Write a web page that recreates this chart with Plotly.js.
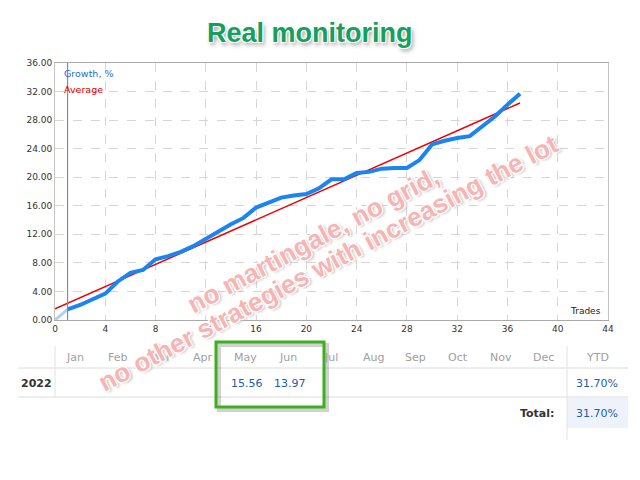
<!DOCTYPE html>
<html>
<head>
<meta charset="utf-8">
<script src="https://cdn.plot.ly/plotly-3.0.1.min.js"></script>
<style>
  html, body { margin: 0; padding: 0; background: #fff; }
  #chart { width: 640px; height: 480px; }
</style>
</head>
<body>
<div id="chart"></div>
<script>
// growth curve, % by trade number
var trades = [1, 2, 3, 4, 5, 6, 7, 8, 9, 10, 11, 12, 13, 14, 15, 16, 17, 18, 19,
  20, 21, 22, 23, 24, 25, 26, 27, 28, 29, 30, 31, 32, 33, 34, 35, 36, 37];
var growth = [1.5, 2.1, 2.9, 3.7, 5.4, 6.6, 7.0, 8.5, 8.95, 9.55, 10.35, 11.4, 12.4, 13.4, 14.3, 15.75, 16.45, 17.15, 17.45,
  17.65, 18.45, 19.7, 19.7, 20.6, 20.75, 21.2, 21.3, 21.3, 22.4, 24.6, 25.1, 25.5, 25.75, 27.1, 28.5, 30.15, 31.7];
var startX = [0, 1];
var startY = [0, 1.5];
var avgX = [0, 37];
var avgY = [1.55, 30.4];

// monthly table
var months = ['Jan', 'Feb', 'Mar', 'Apr', 'May', 'Jun', 'Jul', 'Aug', 'Sep', 'Oct', 'Nov', 'Dec'];
var year = '2022';
var monthVals = ['', '', '', '', '15.56', '13.97', '', '', '', '', '', ''];
var ytd = '31.70%';
var total = '31.70%';

// pixel -> paper helpers (plot area 55..608 x 63..320)
function px(x) { return (x - 55) / 553; }
function py(y) { return (320 - y) / 257; }

// text placed by pixel centre
function label(x, y, text, font, xanchor) {
  return { xref: 'paper', yref: 'paper', x: px(x), y: py(y), showarrow: false,
    xanchor: xanchor || 'center', yanchor: 'middle', text: text, font: font };
}

var tickFont = { family: 'DejaVu Sans', size: 9, color: '#333' };

var data = [
  { x: startX, y: startY, type: 'scatter', mode: 'lines',
    line: { color: '#b3cfec', width: 3 }, hoverinfo: 'skip' },
  { x: avgX, y: avgY, type: 'scatter', mode: 'lines',
    line: { color: '#ee0000', width: 1.5 } },
  { x: trades, y: growth, type: 'scatter', mode: 'lines',
    line: { color: '#1a85f0', width: 4 } }
];

var ann = [];
var shapes = [];

// title
ann.push(label(310, 33, '<b>Real monitoring</b>', { family: 'Liberation Sans', size: 27, color: '#15a060',
  shadow: '1px 1px 0 #fff, -1px -1px 0 #fff, 1px -1px 0 #fff, -1px 1px 0 #fff, 2px 3px 4px #999' }));

// legend texts inside plot
ann.push(label(62, 73, 'Growth, %', { family: 'DejaVu Sans', size: 9.5, color: '#1a70d8' }, 'left'));
ann.push(label(62, 89, 'Average', { family: 'DejaVu Sans', size: 9.5, color: '#dd0000' }, 'left'));
ann.push(label(603, 311, 'Trades', { family: 'DejaVu Sans', size: 9, color: '#222' }, 'right'));

// start marker line at trade 1, right border
shapes.push({ type: 'line', xref: 'x', yref: 'y', x0: 1, x1: 1, y0: 0, y1: 36,
  line: { color: '#8c8c8c', width: 1.2 } });

// table grid
shapes.push({ type: 'rect', xref: 'paper', yref: 'paper', x0: px(567), x1: px(628), y0: py(398), y1: py(428),
  fillcolor: '#eef2fa', line: { width: 0 } });
shapes.push({ type: 'line', xref: 'paper', yref: 'paper', x0: px(18), x1: px(628), y0: py(368), y1: py(368),
  line: { color: '#dcdcdc', width: 1 } });
shapes.push({ type: 'line', xref: 'paper', yref: 'paper', x0: px(18), x1: px(628), y0: py(397), y1: py(397),
  line: { color: '#dcdcdc', width: 1 } });
shapes.push({ type: 'line', xref: 'paper', yref: 'paper', x0: px(55), x1: px(55), y0: py(346), y1: py(397),
  line: { color: '#e2e2e2', width: 1 } });
shapes.push({ type: 'line', xref: 'paper', yref: 'paper', x0: px(567), x1: px(567), y0: py(346), y1: py(440),
  line: { color: '#e2e2e2', width: 1 } });

var hdrFont = { family: 'DejaVu Sans', size: 11, color: '#a0a0a0' };
var valFont = { family: 'DejaVu Sans', size: 11, color: '#1a5ea8' };
var boldFont = { family: 'DejaVu Sans', size: 11, color: '#333' };
for (var i = 0; i < months.length; i++) {
  var cx = 75 + i * 42.6;
  ann.push(label(cx, 357, months[i], hdrFont));
  if (monthVals[i] !== '') {
    ann.push(label(cx + 2, 383, monthVals[i], valFont));
  }
}
ann.push(label(597, 357, 'YTD', hdrFont));
ann.push(label(36, 383, '<b>' + year + '</b>', boldFont));
ann.push(label(597, 383, ytd, valFont));
ann.push(label(556, 413, '<b>Total:</b>', boldFont, 'right'));
ann.push(label(597, 413, total, valFont));

// green highlight box
shapes.push({ type: 'rect', xref: 'paper', yref: 'paper', x0: px(219), x1: px(327), y0: py(345), y1: py(410),
  line: { color: 'rgba(0,0,0,0.18)', width: 4 } });
shapes.push({ type: 'rect', xref: 'paper', yref: 'paper', x0: px(216), x1: px(324), y0: py(342), y1: py(407),
  line: { color: '#3db01c', width: 3 } });

// watermark
var wmFont = { family: 'Liberation Sans', size: 26, color: '#f6b4b4',
  shadow: '1px 1px 0 #fff, -1px -1px 0 #fff, 1px -1px 0 #fff, -1px 1px 0 #fff, 2px 2px 3px #bbb' };
var wm1 = label(313, 240, '<b>no martingale, no grid,</b>', wmFont);
wm1.textangle = -28;
var wm2 = label(328, 263, '<b>no other strategies with increasing the lot</b>', wmFont);
wm2.textangle = -28;
ann.push(wm1, wm2);

var layout = {
  width: 640, height: 480,
  margin: { l: 55, r: 32, t: 63, b: 160 },
  paper_bgcolor: '#fff', plot_bgcolor: '#fff',
  showlegend: false,
  xaxis: {
    range: [0, 44], tickvals: [0, 4, 8, 12, 16, 20, 24, 28, 32, 36, 40, 44],
    showgrid: true, gridcolor: '#d6d6d6', griddash: 'dash', gridwidth: 1,
    zeroline: false, showline: true, linecolor: '#aaa', mirror: true,
    ticks: '', tickfont: tickFont, fixedrange: true
  },
  yaxis: {
    range: [0, 36], dtick: 4, tick0: 0, tickformat: '.2f',
    showgrid: true, gridcolor: '#d6d6d6', griddash: 'dash', gridwidth: 1,
    zeroline: false, showline: true, linecolor: '#c4c4c4', mirror: true,
    ticks: '', tickfont: tickFont, fixedrange: true
  },
  annotations: ann,
  shapes: shapes
};

Plotly.newPlot('chart', data, layout, { displayModeBar: false, staticPlot: true });
</script>
</body>
</html>
